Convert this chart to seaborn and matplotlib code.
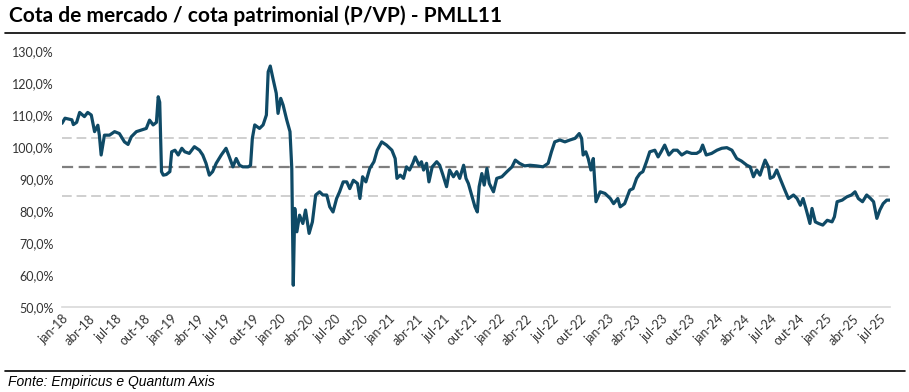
import pandas as pd
import matplotlib.pyplot as plt
import matplotlib.dates as mdates
from matplotlib.lines import Line2D
from matplotlib.ticker import FuncFormatter
import seaborn as sns

datas = [
    "2018-01-01", "2018-01-11", "2018-02-03", "2018-02-08", "2018-02-19", "2018-03-01",
    "2018-03-17", "2018-03-28", "2018-04-09", "2018-04-20", "2018-05-01", "2018-05-06",
    "2018-05-12", "2018-05-23", "2018-06-09", "2018-06-26", "2018-07-12", "2018-07-29",
    "2018-08-10", "2018-08-21", "2018-09-07", "2018-09-24", "2018-10-10", "2018-10-21",
    "2018-11-02", "2018-11-13", "2018-11-19", "2018-11-24", "2018-11-30", "2018-12-06",
    "2018-12-16", "2018-12-28", "2019-01-03", "2019-01-14", "2019-01-25", "2019-02-06",
    "2019-02-16", "2019-03-03", "2019-03-20", "2019-04-06", "2019-04-17", "2019-04-28",
    "2019-05-09", "2019-05-20", "2019-06-01", "2019-06-18", "2019-07-04", "2019-07-15",
    "2019-07-27", "2019-08-07", "2019-08-18", "2019-08-29", "2019-09-16", "2019-09-24",
    "2019-09-30", "2019-10-08", "2019-10-24", "2019-11-05", "2019-11-16", "2019-11-22",
    "2019-11-29", "2019-12-08", "2019-12-19", "2019-12-25", "2020-01-03", "2020-01-11",
    "2020-01-23", "2020-02-03", "2020-02-09", "2020-02-14", "2020-02-19", "2020-02-26",
    "2020-03-06", "2020-03-17", "2020-03-26", "2020-04-07", "2020-04-18", "2020-04-29",
    "2020-05-12", "2020-05-23", "2020-06-05", "2020-06-15", "2020-06-26", "2020-07-08",
    "2020-07-18", "2020-07-30", "2020-08-11", "2020-08-21", "2020-09-02", "2020-09-16",
    "2020-09-24", "2020-10-03", "2020-10-14", "2020-10-27", "2020-11-10", "2020-11-21",
    "2020-12-06", "2020-12-22", "2021-01-09", "2021-01-20", "2021-01-26", "2021-02-06",
    "2021-02-17", "2021-02-27", "2021-03-09", "2021-03-20", "2021-03-28", "2021-04-10",
    "2021-04-18", "2021-04-25", "2021-05-05", "2021-05-13", "2021-05-24", "2021-06-08",
    "2021-06-18", "2021-06-29", "2021-07-11", "2021-07-21", "2021-08-03", "2021-08-14",
    "2021-08-24", "2021-09-06", "2021-09-14", "2021-09-22", "2021-10-03", "2021-10-14",
    "2021-10-22", "2021-10-28", "2021-11-06", "2021-11-14", "2021-11-23", "2021-12-01",
    "2021-12-15", "2021-12-26", "2022-01-12", "2022-01-29", "2022-02-15", "2022-02-26",
    "2022-03-12", "2022-03-29", "2022-04-16", "2022-05-08", "2022-05-30", "2022-06-16",
    "2022-06-27", "2022-07-08", "2022-07-25", "2022-08-11", "2022-08-28", "2022-09-14",
    "2022-09-28", "2022-10-06", "2022-10-11", "2022-10-20", "2022-10-28", "2022-11-06",
    "2022-11-14", "2022-11-23", "2022-12-07", "2022-12-23", "2023-01-10", "2023-01-21",
    "2023-02-04", "2023-02-12", "2023-02-27", "2023-03-16", "2023-03-27", "2023-04-08",
    "2023-04-19", "2023-04-29", "2023-05-11", "2023-05-22", "2023-06-08", "2023-06-19",
    "2023-06-29", "2023-07-11", "2023-07-25", "2023-08-09", "2023-08-22", "2023-09-06",
    "2023-09-23", "2023-10-09", "2023-10-26", "2023-11-07", "2023-11-15", "2023-11-27",
    "2023-12-15", "2024-01-02", "2024-01-18", "2024-02-04", "2024-02-21", "2024-03-08",
    "2024-03-24", "2024-04-11", "2024-04-22", "2024-05-03", "2024-05-14", "2024-05-25",
    "2024-06-03", "2024-06-11", "2024-06-22", "2024-06-28", "2024-07-09", "2024-07-20",
    "2024-07-31", "2024-08-14", "2024-08-28", "2024-09-14", "2024-09-26", "2024-10-07",
    "2024-10-16", "2024-10-27", "2024-11-08", "2024-11-15", "2024-11-26", "2024-12-07",
    "2024-12-21", "2025-01-05", "2025-01-21", "2025-01-29", "2025-02-07", "2025-02-24",
    "2025-03-11", "2025-03-27", "2025-04-08", "2025-04-19", "2025-05-03", "2025-05-17",
    "2025-05-30", "2025-06-09", "2025-06-20", "2025-06-30", "2025-07-11", "2025-07-23",
    "2025-08-03",
]

pvp = [
    107.4, 109.0, 108.5, 107.0, 107.7, 110.8,
    109.5, 110.8, 110.0, 104.8, 106.8, 103.7,
    97.5, 103.7, 103.7, 104.8, 104.2, 101.6,
    100.8, 103.2, 104.8, 105.3, 105.8, 108.4,
    106.9, 107.7, 115.7, 114.0, 92.3, 91.2,
    91.4, 92.3, 98.5, 99.0, 97.5, 99.6,
    98.5, 98.0, 100.1, 99.0, 97.5, 94.9,
    91.2, 92.3, 94.9, 97.5, 99.6, 96.9,
    93.8, 96.4, 94.3, 93.8, 93.8, 94.3,
    102.7, 106.9, 105.8, 106.9, 110.0, 123.5,
    125.3, 121.4, 116.8, 110.5, 115.2, 113.1,
    108.5, 104.8, 93.3, 56.8, 80.8, 73.5,
    78.7, 76.1, 80.3, 73.0, 76.6, 85.0,
    86.0, 85.0, 85.0, 81.3, 79.7, 83.9,
    86.0, 89.1, 89.1, 87.0, 89.6, 88.6,
    83.9, 90.7, 89.1, 93.3, 95.4, 99.0,
    101.6, 100.6, 99.0, 96.4, 90.2, 91.2,
    90.2, 93.8, 92.8, 94.9, 96.9, 94.3,
    95.4, 92.8, 94.9, 89.1, 93.8, 95.4,
    94.3, 91.2, 87.6, 92.8, 90.7, 92.3,
    90.2, 94.3, 90.2, 88.6, 85.0, 81.3,
    79.7, 87.6, 91.7, 88.1, 93.3, 88.6,
    86.0, 90.2, 90.7, 92.3, 93.8, 95.9,
    94.9, 94.1, 94.3, 94.1, 93.8, 94.9,
    98.5, 101.6, 102.2, 101.6, 102.2, 102.7,
    104.2, 102.7, 97.5, 98.5, 96.4, 92.8,
    96.4, 82.9, 86.0, 85.5, 83.9, 82.3,
    83.9, 81.3, 82.3, 86.5, 87.0, 90.2,
    91.7, 92.3, 95.4, 98.5, 99.0, 96.9,
    98.5, 100.6, 97.5, 99.0, 99.0, 97.5,
    98.5, 98.0, 98.0, 98.7, 100.6, 97.5,
    98.0, 99.0, 99.6, 99.8, 99.0, 96.4,
    95.6, 94.3, 93.8, 90.7, 92.8, 91.2,
    93.8, 95.9, 93.8, 90.2, 90.7, 92.8,
    90.2, 87.0, 83.9, 85.0, 83.9, 81.8,
    83.9, 80.3, 76.1, 80.8, 76.6, 76.1,
    75.6, 77.1, 76.6, 78.2, 82.9, 83.4,
    84.4, 85.0, 86.0, 83.9, 82.9, 85.0,
    83.9, 82.9, 77.7, 80.3, 82.3, 83.4,
    83.4,
]

# media e +/- 1 desvio padrao
media = 93.8
desvio = 9.1

meses_pt = ["jan", "fev", "mar", "abr", "mai", "jun",
            "jul", "ago", "set", "out", "nov", "dez"]

df = pd.DataFrame({"data": pd.to_datetime(datas), "pvp": pvp})

sns.set_theme(style="white")
plt.rcParams["font.family"] = ["Lato", "DejaVu Sans"]

fig = plt.figure(figsize=(9.09, 3.92), dpi=100)
ax = fig.add_axes([62 / 909, 1 - 307 / 392, 828 / 909, 256 / 392])

sns.lineplot(data=df, x="data", y="pvp", ax=ax, color="#0F4A66", linewidth=2.3)

ax.axhline(media + desvio, color="#CFCFCF", linestyle=(0, (5, 2.5)), linewidth=1.4, zorder=1)
ax.axhline(media, color="#7F7F7F", linestyle=(0, (5, 2.5)), linewidth=1.6, zorder=1)
ax.axhline(media - desvio, color="#CFCFCF", linestyle=(0, (5, 2.5)), linewidth=1.4, zorder=1)

ax.set_ylim(50, 130)
ax.set_yticks(range(50, 131, 10))
ax.yaxis.set_major_formatter(FuncFormatter(lambda v, p: f"{v:.1f}%".replace(".", ",")))
ax.set_xlim(pd.Timestamp("2018-01-01"), pd.Timestamp("2025-08-03"))
ax.xaxis.set_major_locator(mdates.MonthLocator(bymonth=[1, 4, 7, 10]))
ax.xaxis.set_major_formatter(FuncFormatter(
    lambda v, p: f"{meses_pt[mdates.num2date(v).month - 1]}-{mdates.num2date(v).strftime('%y')}"))
ax.set_xlabel("")
ax.set_ylabel("")

for lbl in ax.get_xticklabels():
    lbl.set_rotation(45)
    lbl.set_ha("right")
    lbl.set_rotation_mode("anchor")
ax.tick_params(axis="both", labelsize=9, colors="#333333", length=0, pad=6)
ax.tick_params(axis="x", pad=4)

sns.despine(ax=ax, left=True, top=True, right=True)
ax.spines["bottom"].set_color("#D9D9D9")
ax.spines["bottom"].set_linewidth(1.2)

fig.text(9 / 909, 1 - 16 / 392, "Cota de mercado / cota patrimonial (P/VP) - PMLL11",
         fontsize=15, fontweight="bold", color="black", va="center", ha="left")
fig.add_artist(Line2D([5 / 909, 905 / 909], [1 - 33 / 392, 1 - 33 / 392],
                      color="black", linewidth=1.2))
fig.add_artist(Line2D([5 / 909, 905 / 909], [1 - 371 / 392, 1 - 371 / 392],
                      color="black", linewidth=1.2))
fig.text(8 / 909, 1 - 382 / 392, "Fonte: Empiricus e Quantum Axis",
         fontsize=10, style="italic", color="black", va="center", ha="left",
         family=["Liberation Sans Narrow", "Liberation Sans", "DejaVu Sans"])

fig.savefig("out.png", dpi=100)
